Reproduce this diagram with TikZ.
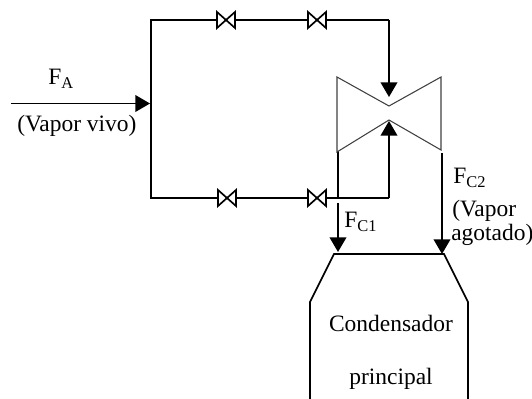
\documentclass[tikz,border=0pt]{standalone}
\usepackage{fontspec}
\setmainfont{Liberation Serif}
\usetikzlibrary{arrows.meta}
\tikzset{
  x=0.75pt,y=-0.75pt,
  pipe/.style={line width=1.5pt,black},
  thick pipe/.style={line width=1.8pt,black},
  flow/.style={line width=1.3pt,-{Triangle[length=11pt,width=12.5pt]},shorten >=0pt},
  valvebox/.style={line width=1.25pt,draw=black,fill=white},
  turb/.style={line width=0.8pt,draw=black!75},
  lbl/.style={font=\fontsize{17.6}{20}\selectfont,inner sep=0pt,anchor=base},
  lblw/.style={lbl,anchor=base west},
}
\newcommand{\valve}[1]{\draw[valvebox] ([shift={(-9,-8)}]#1) -- ([shift={(9,8)}]#1) -- ([shift={(9,-8)}]#1) -- ([shift={(-9,8)}]#1) -- cycle;}
\begin{document}
\begin{tikzpicture}
\useasboundingbox (0,0) rectangle (532,399);
\coordinate (in) at (11,103.5);
\coordinate (hdr) at (150,103.5);
\coordinate (tl) at (151,20);
\coordinate (bl) at (151,198);
\coordinate (tr) at (389,20);
\coordinate (br) at (389,198);
\coordinate (tipTop) at (389,97);
\coordinate (tipBot) at (389,121);
\coordinate (v1) at (226,20);
\coordinate (v2) at (317,20);
\coordinate (v3) at (227,198);
\coordinate (v4) at (317,198);
\coordinate (c1s) at (338,203);
\coordinate (c1e) at (338,252);
\coordinate (c1a) at (338,151);
\coordinate (c1b) at (338,197);
\coordinate (c2s) at (442,153);
\coordinate (c2e) at (442,254);
% pipes
\draw[thick pipe,line cap=rect] (tl) -- (bl);
\draw[pipe] (tl) -- (tr);
\draw[pipe] (bl) -- (br);
\draw[flow] (in) -- (hdr);
\draw[flow] (tr) -- (tipTop);
\draw[flow] (br) -- (tipBot);
\draw[flow,-] (c1a) -- (c1b);
\draw[flow] (c1s) -- (c1e);
\draw[flow] (c2s) -- (c2e);
% valves
\valve{v1}\valve{v2}\valve{v3}\valve{v4}
% turbine
\draw[turb] (337,152) -- (337,77) -- (389,106) -- (441,77) -- (441,150) -- (389,120) -- cycle;
% condenser
\draw[line width=1.3pt,line join=miter] (310,399) -- (310,302) -- (334,254) -- (444,254) -- (468,302) -- (468,399);
% labels
\node[lblw] (fa) at (48,85) {F\textsubscript{A}};
\node[lblw] (vv) at (17,132) {(Vapor vivo)};
\node[lblw] (fc1) at (344,228) {F\textsubscript{C1}};
\node[lblw] (fc2) at (453,184) {F\textsubscript{C2}};
\node[lblw] (vp) at (452,217) {(Vapor};
\node[lblw] (ag) at (451,241) {agotado)};
\node[lbl] (co) at (391,331) {Condensador};
\node[lbl] (pr) at (391,384) {principal};
\end{tikzpicture}
\end{document}
